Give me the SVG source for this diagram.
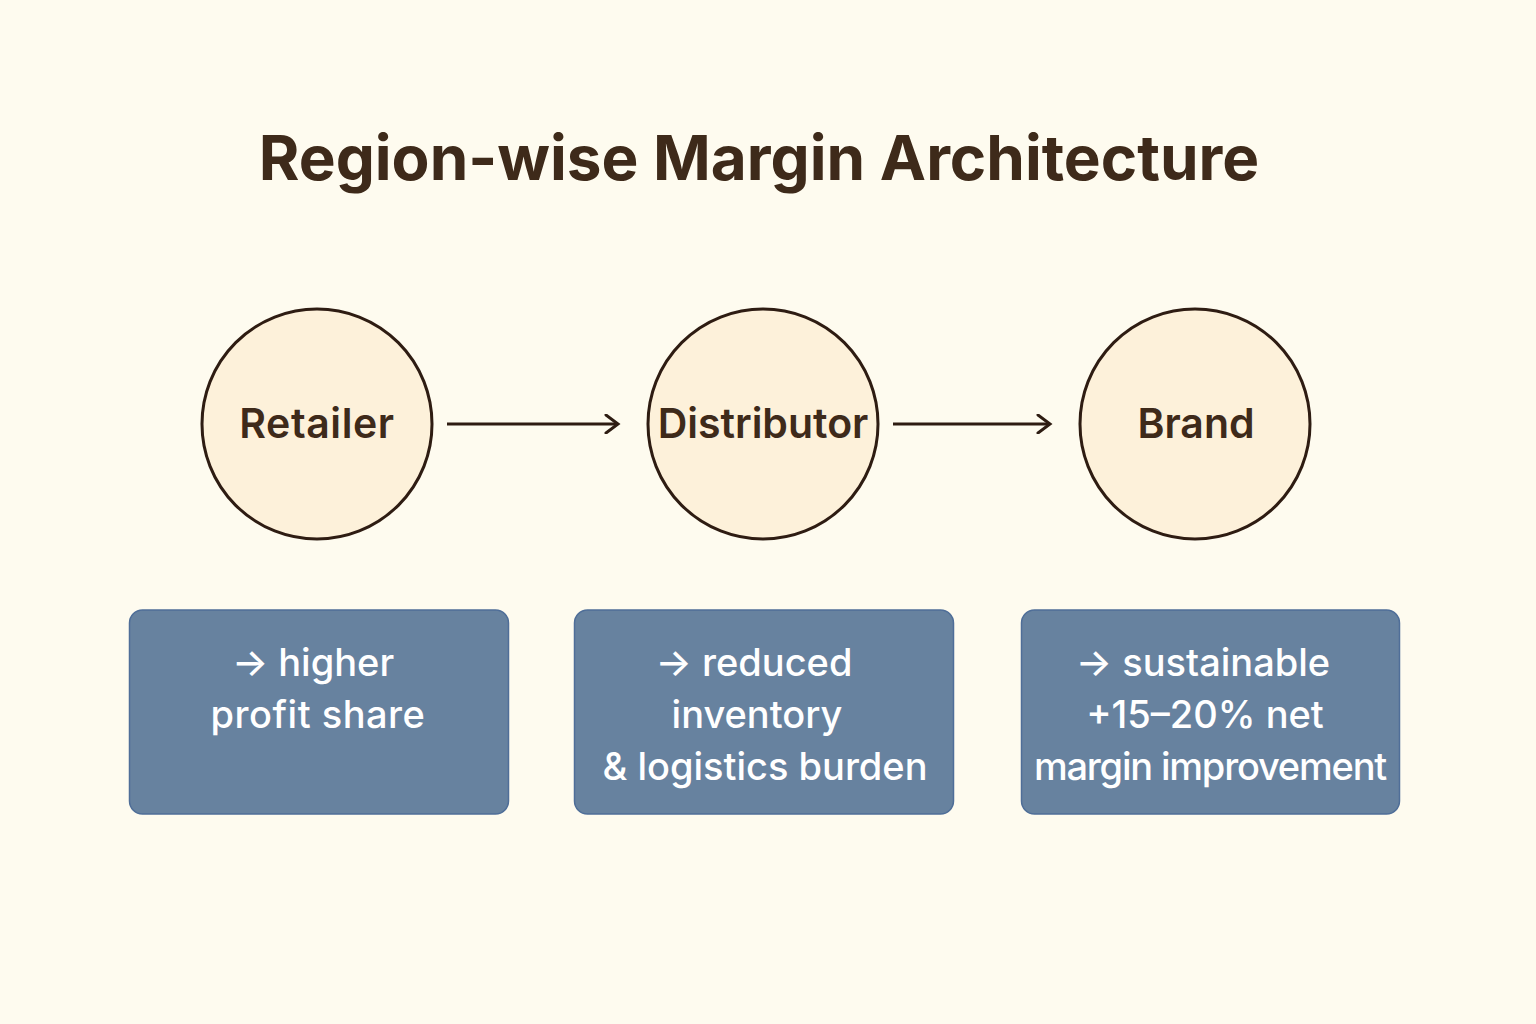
<svg xmlns="http://www.w3.org/2000/svg" width="1536" height="1024" viewBox="0 0 1536 1024">
<defs>
<style>
.title{font-family:Inter,"Open Sans","Liberation Sans",sans-serif;font-weight:700;font-size:62px;fill:#3e2a1a;text-anchor:middle}
.node{fill:#fdf1da;stroke:#2e1c12;stroke-width:3}
.lbl{font-family:Inter,"Open Sans","Liberation Sans",sans-serif;font-weight:600;font-size:41px;fill:#3e2a1a;text-anchor:middle}
.box{fill:#67829f;stroke:#4f6e98;stroke-width:1.5}
.btxt{font-family:Inter,"Open Sans","Liberation Sans",sans-serif;font-weight:500;font-size:38px;fill:#ffffff;text-anchor:middle}
.conn{stroke:#2e1c12;stroke-width:3;fill:none}
</style>
<marker id="arr" markerWidth="20" markerHeight="20" refX="17" refY="10" viewBox="0 0 20 20" markerUnits="userSpaceOnUse" orient="auto">
<path d="M5,1 L17,10 L5,19" fill="none" stroke="#2e1c12" stroke-width="3" stroke-linecap="round"/>
</marker>
</defs>
<rect width="1536" height="1024" fill="#fefbef"/>
<text class="title" x="759" y="180">Region-wise Margin Architecture</text>
<g id="connectors">
<line class="conn" x1="447" y1="424" x2="618" y2="424" marker-end="url(#arr)"/>
<line class="conn" x1="893" y1="424" x2="1050" y2="424" marker-end="url(#arr)"/>
</g>
<g id="retailer">
<circle class="node" cx="317" cy="424" r="115"/>
<text class="lbl" x="317" y="438" letter-spacing="0.6">Retailer</text>
</g>
<g id="distributor">
<circle class="node" cx="763" cy="424" r="115"/>
<text class="lbl" x="763" y="438">Distributor</text>
</g>
<g id="brand">
<circle class="node" cx="1195" cy="424" r="115"/>
<text class="lbl" x="1196" y="438">Brand</text>
</g>
<g id="retailer-note">
<rect class="box" x="129.5" y="610" width="379" height="204" rx="13"/>
<text class="btxt" x="313" y="676">→ higher</text>
<text class="btxt" x="318" y="728" letter-spacing="0.5">profit share</text>
</g>
<g id="distributor-note">
<rect class="box" x="574.5" y="610" width="379" height="204" rx="13"/>
<text class="btxt" x="754" y="676">→ reduced</text>
<text class="btxt" x="757" y="728">inventory</text>
<text class="btxt" x="765" y="780">&amp; logistics burden</text>
</g>
<g id="brand-note">
<rect class="box" x="1021.5" y="610" width="378" height="204" rx="13"/>
<text class="btxt" x="1203" y="676">→ sustainable</text>
<text class="btxt" x="1205" y="728">+15–20% net</text>
<text class="btxt" x="1210" y="780" letter-spacing="-1.2">margin improvement</text>
</g>
</svg>
